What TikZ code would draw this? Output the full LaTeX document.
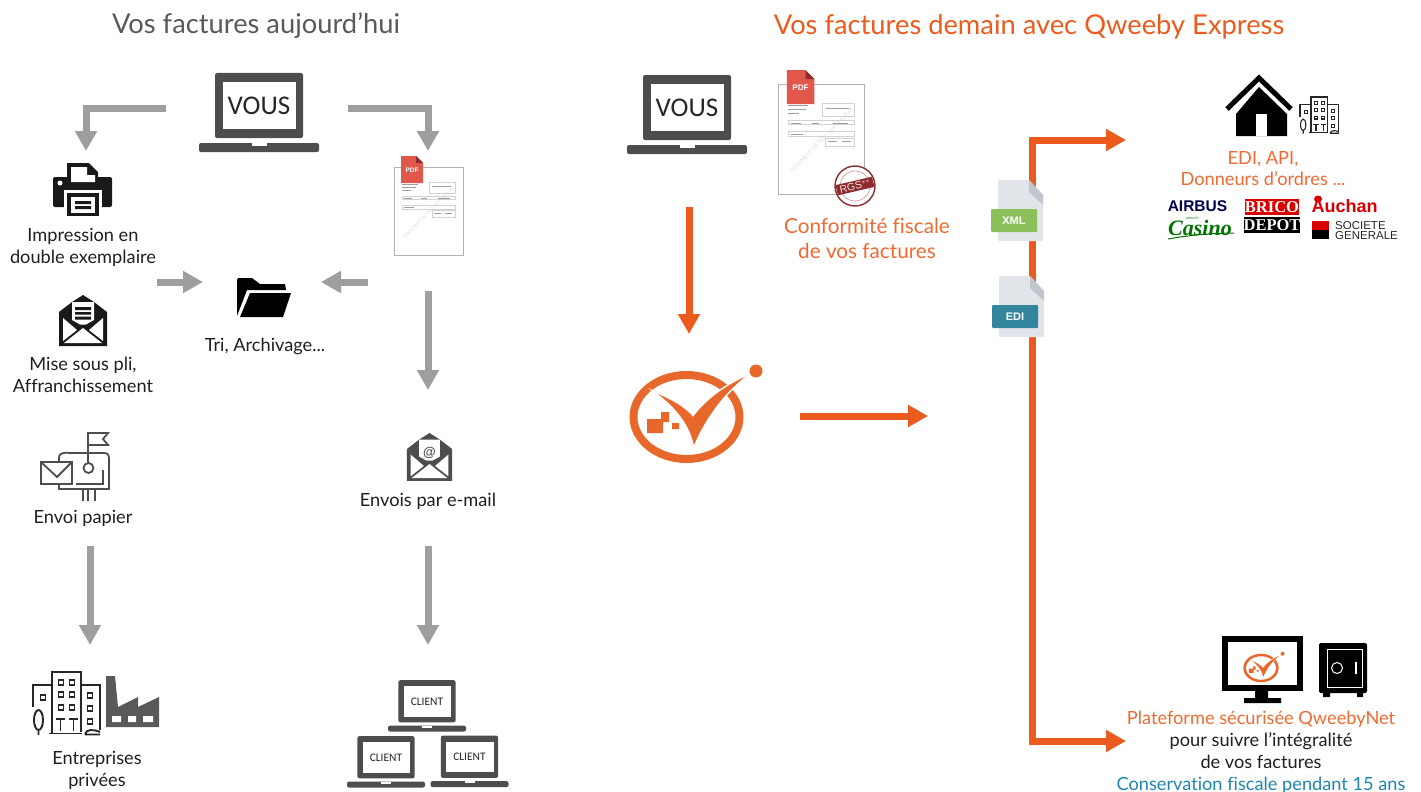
\documentclass[tikz,border=0pt]{standalone}
\usepackage{fontspec}
\setmainfont{Lato}[Ligatures=NoCommon]
\newfontfamily\labelfont{Carlito}
\newfontfamily\logosans{Liberation Sans}
\newfontfamily\logoserif{Liberation Serif}
\usetikzlibrary{arrows.meta,positioning}
\definecolor{arrowgray}{HTML}{9E9E9E}
\definecolor{icongray}{HTML}{4D4D4D}
\definecolor{titlegray}{HTML}{595959}
\definecolor{qorange}{HTML}{EB5B1E}
\definecolor{logoorange}{HTML}{E8672B}
\definecolor{txtorange}{HTML}{EE6A32}
\definecolor{txtblue}{HTML}{1E86AD}
\definecolor{pdfred}{HTML}{E2574C}
\definecolor{stampred}{HTML}{8E2B2F}
\definecolor{pagegray}{HTML}{E1E5E9}
\definecolor{foldgray}{HTML}{BFC6CC}
\definecolor{xmlgreen}{HTML}{8BC05A}
\definecolor{edicyan}{HTML}{31859C}
\newcommand{\vousfont}{\labelfont\fontsize{27}{27}\selectfont}
\newcommand{\clientfont}{\labelfont\fontsize{11.5}{12}\selectfont}
\tikzset{
  grayarrow/.style={draw=arrowgray,line width=7pt,-{Triangle[length=20pt,width=21pt]}},
  orangearrow/.style={draw=qorange,line width=7pt,-{Triangle[length=20pt,width=21pt]}},
  title/.style={inner sep=0pt,font=\fontsize{27.3}{27}\selectfont},
  caption/.style={inner sep=0pt,align=center,text=black!88,font=\fontsize{18.2}{22}\selectfont},
  ocaption/.style={caption,text=txtorange},
  pics/laptop/.style={code={
    \fill[icongray,rounded corners=2pt] (-44,26) -- (-44,-39) -- (44,-39) -- (44,26) -- cycle;
    \fill[white] (-36,-30) rectangle (37,17);
    \fill[icongray,rounded corners=2pt] (-60,31) -- (60,31) -- (60,40) -- (-60,40) -- cycle;
    \fill[white] (-7,31) rectangle (8,34);
    \node[inner sep=0pt,text=black!85] (-label) at (0,-6) {#1};
  }},
  pics/pdfdoc/.style={code={
    \draw[black!30,line width=1pt,fill=white] (0,0) rectangle (69,88);
    \node[inner sep=0pt,rotate=46,transform shape,text=black!14,font=\fontsize{4.2}{5}\selectfont] (-mark) at (34.5,45.5) {DOCUMENT DE TEST SANS VALEUR};
    \draw[black!18,line width=.3pt] (35,15) rectangle (61,26) (8,29) rectangle (61,32.5) (8,38) rectangle (61,42) (38,43) rectangle (61,50);
    \draw[black!38,line width=.5pt] (8,17) -- (24,17) (8,20) -- (22,20) (8,23) -- (17,23) (38,19) -- (57,19) (10,31) -- (18,31) (27,31) -- (33,31) (44,31) -- (56,31) (10,40) -- (20,40) (40,46) -- (47,46) (51,46) -- (58,46);
    \fill[pdfred] (7,-11) -- (22,-11) -- (29,-4) -- (29,16) -- (7,16) -- cycle;
    \fill[stampred] (22,-11) -- (29,-4) -- (22,-4) -- cycle;
    \node[inner sep=0pt,transform shape,text=white,font=\logosans\bfseries\fontsize{6.5}{7}\selectfont] (-tag) at (18,3) {PDF};
  }},
  pics/filedoc/.style 2 args={code={
    \fill[pagegray,rounded corners=1pt] (0,0) -- (31,0) -- (45,15) -- (45,61) -- (0,61) -- cycle;
    \fill[foldgray] (31,0) -- (45,15) -- (45,25) -- (31,12) -- cycle;
    \fill[#1,rounded corners=1pt] (-7,29) rectangle (39,52);
    \node[inner sep=0pt,text=white,font=\logosans\bfseries\fontsize{11}{12}\selectfont] (-tag) at (16,40.5) {#2};
  }},
  pics/openmail/.style={code={
    \fill[#1] (0,0) -- (11,7) -- (11,7) -- (24,17) -- (24,51) -- (-24,51) -- (-24,17) -- (-11,7) -- cycle;
    \fill[white] (-11,7) -- (11,7) -- (11,25) -- (3,29.5) -- (-3,29.5) -- (-11,25) -- cycle;
    \fill[white] (-20,23) -- (-20,46) -- (-6,35) -- cycle;
    \fill[white] (20,23) -- (20,46) -- (6,35) -- cycle;
    \fill[white] (-19,48) -- (0,33) -- (19,48) -- cycle;
  }},
  pics/office/.style={code={
    \begin{scope}[line width=#1,black!85,line join=miter]
      \draw (19,62) -- (19,0) -- (48,0) -- (48,60);
      \draw (0,35) -- (0,13) -- (19,13) (48,13) -- (67,13) -- (67,58);
      \foreach \wy in {8,20,33} {
        \draw (25.5,\wy) rectangle (30.5,\wy+5) (36.5,\wy) rectangle (41.5,\wy+5);
      }
      \draw (7.5,23) rectangle (12.5,28);
      \foreach \wy in {21,34,47} {
        \draw (54.5,\wy) rectangle (59.5,\wy+5);
      }
      \draw (23,47) -- (32,47) (36,47) -- (45,47) (27.5,47) -- (27.5,59) (40.5,47) -- (40.5,59);
      \draw (16,61.5) -- (49,61.5);
      \draw (5.5,48) ellipse (4.5 and 10) (5.5,58) -- (5.5,63);
      \draw (52,62.5) .. controls (53,57) and (60,57) .. (67,60) (52,62.5) -- (67,62.5);
    \end{scope}
  }},
  pics/qweeby/.style={code={
    \fill[logoorange,even odd rule] (0,0) ellipse (57 and 46) (0,0) ellipse (49 and 38);
    \filldraw[logoorange,draw=white,line width=#1] (-28.5,-23) .. controls (-10,-15) and (0,-8) .. (6.5,0) .. controls (20,-18) and (40,-32) .. (58.5,-40) .. controls (35,-22) and (17,5) .. (7.5,28) .. controls (2,5) and (-12,-10) .. cycle;
    \fill[logoorange] (-28.5,-23) .. controls (-10,-15) and (0,-8) .. (6.5,0) .. controls (20,-18) and (40,-32) .. (58.5,-40) .. controls (35,-22) and (17,5) .. (7.5,28) .. controls (2,5) and (-12,-10) .. cycle;
    \fill[logoorange] (69.5,-46) circle (6.5);
    \fill[logoorange] (-39.5,2) rectangle (-23.5,16) (-25.5,-5) rectangle (-17.5,5) (-14.5,6) rectangle (-7.5,12);
  }},
}
\begin{document}
\begin{tikzpicture}[x=1pt,y=-1pt]
  \useasboundingbox (0,0) rectangle (1421,792);

  \fill[black] (1222,636) rectangle (1303,691);
  \fill[white] (1228,642) rectangle (1297,685);
  \fill[black] (1255,691) rectangle (1268,698) (1244,698) rectangle (1281,703);

  \path
  (256,25.5) node[title,text=titlegray] (titleleft) {Vos factures aujourd'hui}
  (1029,27) node[title,text=qorange] (titleright) {Vos factures demain avec Qweeby Express}
  (83,247) node[caption] (printlabel) {Impression en\\double exemplaire}
  (83,375) node[caption] (maillabel) {Mise sous pli,\\Affranchissement}
  (265,346.5) node[caption] (archivelabel) {Tri, Archivage...}
  (83,518.5) node[caption] (paperlabel) {Envoi papier}
  (428,501.5) node[caption] (emaillabel) {Envois par e-mail}
  (97,770) node[caption] (companylabel) {Entreprises\\privées}
  (867,238) node[ocaption,font=\fontsize{20.7}{25}\selectfont] (fiscallabel) {Conformité fiscale\\de vos factures}
  (1263,168.5) node[ocaption,font=\fontsize{18.2}{21}\selectfont] (edilabel) {EDI, API,\\Donneurs d'ordres ...}
  (1261,752) node[caption] (platformlabel) {\textcolor{txtorange}{Plateforme sécurisée QweebyNet}\\pour suivre l'intégralité\\de vos factures\\\textcolor{txtblue}{Conservation fiscale pendant 15 ans}}
  ;

  \path
  (166,108) coordinate (printstart) (86,108) coordinate (printbend) (86,151) coordinate (printend)
  (348,108) coordinate (pdfstart) (428,108) coordinate (pdfbend) (428,151) coordinate (pdfend)
  (157,282) coordinate (sortleftstart) (203,282) coordinate (sortleftend)
  (368,282) coordinate (sortrightstart) (321,282) coordinate (sortrightend)
  (428,291) coordinate (emailstart) (428,390) coordinate (emailend)
  (90,546) coordinate (paperstart) (90,645) coordinate (paperend)
  (428,546) coordinate (clientstart) (428,645) coordinate (clientend)
  (689,207) coordinate (qweebystart) (689,334) coordinate (qweebyend)
  (800,416) coordinate (routestart) (928,416) coordinate (routeend)
  (1032,741) coordinate (treelow) (1032,140) coordinate (treehigh)
  (1126,140) coordinate (treeedi) (1126,741) coordinate (treenet)
  ;

  \draw[grayarrow] (printstart) -- (printbend) -- (printend);
  \draw[grayarrow] (pdfstart) -- (pdfbend) -- (pdfend);
  \draw[grayarrow] (sortleftstart) -- (sortleftend);
  \draw[grayarrow] (sortrightstart) -- (sortrightend);
  \draw[grayarrow] (emailstart) -- (emailend);
  \draw[grayarrow] (paperstart) -- (paperend);
  \draw[grayarrow] (clientstart) -- (clientend);
  \draw[orangearrow] (qweebystart) -- (qweebyend);
  \draw[orangearrow] (routestart) -- (routeend);
  \draw[orangearrow] (treelow) -- (treehigh) -- (treeedi);
  \draw[orangearrow] (treehigh) -- (treelow) -- (treenet);

  \path
  (259,112) pic (vousleft) {laptop={\vousfont VOUS}}
  (687,114) pic (vousright) {laptop={\vousfont VOUS}}
  (427,705.5) pic[scale=.65] (clienttop) {laptop={\clientfont CLIENT}}
  (386,761.5) pic[scale=.65] (clientleft) {laptop={\clientfont CLIENT}}
  (469.5,761) pic[scale=.65] (clientright) {laptop={\clientfont CLIENT}}
  (394,167) pic (pdfleft) {pdfdoc}
  (778,84) pic[scale=1.25] (pdfright) {pdfdoc}
  (998,180) pic (filexml) {filedoc={xmlgreen}{XML}}
  (999,276) pic (fileedi) {filedoc={edicyan}{EDI}}
  (83,295) pic (mailbox) {openmail=black!90}
  (429.5,433) pic[scale=.94] (mailat) {openmail=icongray}
  (33,672) pic (officeleft) {office=1.9pt}
  (1300,97) pic[scale=.58] (officeright) {office=1.1pt}
  (686.5,417) pic (qweebylogo) {qweeby=3pt}
  (1261,668) pic[scale=.31] (qweebysmall) {qweeby=1pt}
  ;

  \fill[black!90] (75,307) rectangle ++(16,3) (75,312) rectangle ++(16,2.5) (75,316.5) rectangle ++(16,3);
  \node[inner sep=0pt,text=icongray,font=\logosans\bfseries\fontsize{13}{13}\selectfont] (atsign) at (429.5,452.5) {@};

  \fill[black!90,rounded corners=2pt] (53,177) rectangle (112,207);
  \fill[black!90] (67,182) -- (67,163) -- (89,163) -- (98,172) -- (98,182) -- cycle;
  \fill[white] (71,167) -- (87,167) -- (87,175) -- (95,175) -- (95,182) -- (71,182) -- cycle;
  \fill[white] (60,183) circle (2.5);
  \fill[white] (64,190) rectangle (102,217);
  \fill[black!90] (67,193) rectangle (99,216);
  \fill[white] (71,197) rectangle (95,213);
  \fill[black!90] (75,201) rectangle (91,204) (75,206) rectangle (91,209);

  \fill[black] (237,316) -- (237,280) -- (238,278) -- (252,278) -- (260,284) -- (285,284) -- (286,290) -- (247,290) -- cycle;
  \fill[black] (250,293) -- (291,293) -- (283,317) -- (240,317) -- cycle;

  \begin{scope}[icongray,line width=1.8pt,line join=miter]
    \draw (41,462) rectangle (72,484) (41,462) -- (57,477) -- (72,462);
    \draw (59,462) -- (59,458) .. controls (59,451) and (68,453) .. (70,453) -- (104,453) .. controls (108,453) and (109,455) .. (109,459) -- (109,489) -- (59,489) -- (59,484);
    \draw (88,463) -- (88,433) -- (108,433) -- (103,439) -- (108,445) -- (88,445);
    \draw (88.5,468) circle (5);
    \draw (76,484) -- (103,484) -- (103,470);
    \draw (83,490) -- (83,501) (88,490) -- (88,501) (95,490) -- (95,501);
  \end{scope}

  \fill[titlegray] (106,727) -- (106,676) -- (115,676) -- (118,707) -- (138,697) -- (138,707) -- (159,697) -- (159,727) -- cycle;
  \fill[white] (112,716) rectangle (121,722) (128,716) rectangle (136,722) (143,716) rectangle (153,722);

  \fill[white] (855,186) circle (20);
  \draw[stampred,line width=1.4pt] (855,186) circle (20);
  \draw[stampred!50,line width=.6pt] (855,186) circle (15);
  \node[fill=stampred,rotate=13,inner xsep=3pt,inner ysep=1.5pt,text=white!85!stampred,font=\logosans\fontsize{10.5}{11}\selectfont] (stamp) at (855,186) {RGS$^{\ast\ast}$};

  \draw[black,line width=5pt] (1227,109) -- (1259,78) -- (1291,109);
  \fill[black] (1236,136) -- (1236,114) -- (1259,87) -- (1287,114) -- (1287,136) -- cycle;
  \fill[white] (1256,114) rectangle (1267,136);

  \node[inner sep=0pt,text=blue!30!black,font=\logosans\bfseries\fontsize{15.5}{15}\selectfont] (airbus) at (1197.5,206) {AIRBUS};
  \node[inner sep=0pt,text=green!45!black,font=\logoserif\bfseries\itshape\fontsize{22}{22}\selectfont] (casino) at (1200,228) {Casino};
  \node[inner sep=0pt,text=green!45!black,font=\logosans\fontsize{3}{3}\selectfont] (casinotop) at (1192,218) {GROUPE};
  \node[fill=red!85!black,minimum width=54pt,minimum height=16pt,inner sep=0pt,text=white,font=\logoserif\bfseries\fontsize{16.5}{16}\selectfont] (brico) at (1272,207) {BRICO};
  \node[fill=black,minimum width=54pt,minimum height=16pt,inner sep=0pt,text=white,font=\logoserif\bfseries\fontsize{16.5}{16}\selectfont] (depot) at (1272,225) {DEPOT};
  \node[inner sep=0pt,text=red!85!black,font=\logosans\bfseries\fontsize{18}{18}\selectfont] (auchan) at (1344.5,206) {Auchan};
  \fill[red!85!black] (1318,199) ellipse (4 and 3.5);
  \fill[red!85!black] (1312,221) rectangle (1329,230);
  \fill[black] (1312,230) rectangle (1329,239);
  \node[inner sep=0pt,align=left,text=black!85,font=\logosans\fontsize{11.5}{9.5}\selectfont] (socgen) at (1366.5,230.5) {SOCIETE\\GENERALE};

  \fill[black,rounded corners=2pt] (1319,643) rectangle (1367,693);
  \fill[black] (1323,693) rectangle (1330,697) (1357,693) rectangle (1363,697);
  \draw[white,line width=.7pt] (1327,649) rectangle (1362,687);
  \draw[white,line width=1pt] (1337,668) circle (5.5);
  \draw[white,line width=1.2pt] (1356,662) -- (1356,674);
  \draw[green!45!black,line width=1pt] (1168,239) .. controls (1190,235) and (1215,233) .. (1234,233);
\end{tikzpicture}
\end{document}
